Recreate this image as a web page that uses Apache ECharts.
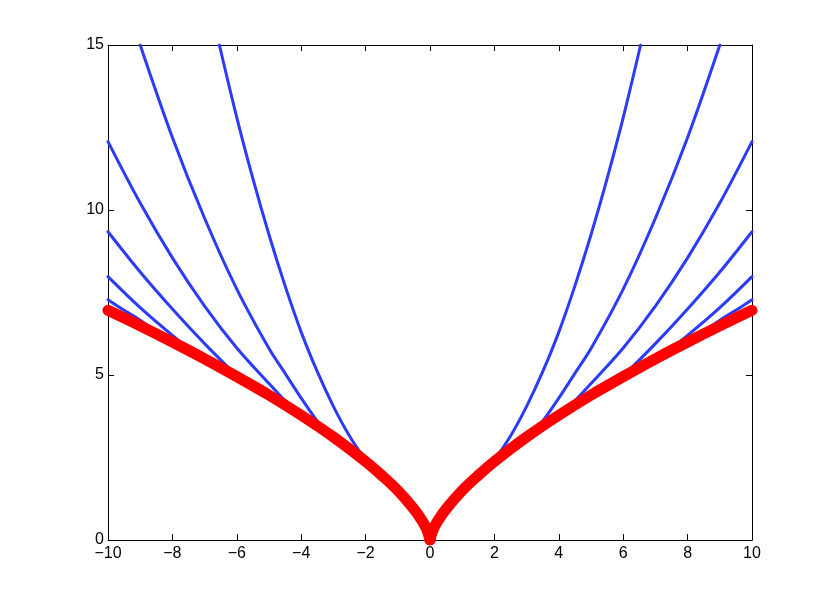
<!DOCTYPE html>
<html>
<head>
<meta charset="utf-8">
<script src="https://cdn.jsdelivr.net/npm/echarts@6/dist/echarts.min.js"></script>
<style>
  html, body { margin: 0; padding: 0; background: #fff; }
  #chart { width: 830px; height: 608px; }
</style>
</head>
<body>
<div id="chart"></div>
<script>
// values, right half (x >= 0); the plot is mirror symmetric
const xTicks = [-10, -8, -6, -4, -2, 0, 2, 4, 6, 8, 10]
const yTicks = [0, 5, 10, 15]

// thick red envelope
const redX = [0, 0.1, 0.25, 0.5, 1, 1.5, 2, 3, 4, 5, 6, 7, 8, 9, 10]
const redY = [0, 0.32, 0.59, 0.94, 1.5, 1.96, 2.38, 3.12, 3.78, 4.39, 4.95, 5.49, 6.0, 6.49, 6.96]

// blue curves, innermost first
const blue1X = [2.0, 2.5, 3.0, 3.5, 4.0, 4.5, 5.0, 5.5, 6.0, 6.54]
const blue1Y = [2.42, 3.15, 4.05, 5.1, 6.3, 7.7, 9.25, 10.95, 12.8, 15.0]
const blue2X = [3.15, 3.5, 4, 4.5, 5, 6, 7, 8, 9]
const blue2Y = [3.18, 3.6, 4.3, 5.05, 5.8, 7.6, 9.75, 12.2, 15.0]
const blue3X = [4.45, 5, 6, 7, 8, 9, 10]
const blue3Y = [4.16, 4.74, 5.82, 7.09, 8.55, 10.21, 12.07]
const blue4X = [6, 7, 8, 9, 10]
const blue4Y = [4.97, 5.95, 7.0, 8.12, 9.34]
const blue5X = [7.35, 8, 9, 10]
const blue5Y = [5.7, 6.2, 7.04, 7.98]
const blue6X = [8.6, 9, 9.5, 10]
const blue6Y = [6.38, 6.66, 6.96, 7.28]

const blueColor = '#2a3cf8'
const redColor = '#ff0000'

function pairs(xs, ys, sign) {
  return xs.map((x, i) => [sign * x, ys[i]])
}

function curve(xs, ys, sign, color, width) {
  return {
    type: 'line',
    data: pairs(xs, ys, sign),
    showSymbol: false,
    symbol: 'none',
    smooth: 0.35,
    clip: true,
    silent: true,
    lineStyle: { color: color, width: width, cap: 'round', join: 'round' },
    z: color === redColor ? 5 : 3,
  }
}

const blues = [
  [blue1X, blue1Y], [blue2X, blue2Y], [blue3X, blue3Y],
  [blue4X, blue4Y], [blue5X, blue5Y], [blue6X, blue6Y],
]

let series = []
blues.forEach(([xs, ys]) => {
  series.push(curve(xs, ys, 1, blueColor, 3))
  series.push(curve(xs, ys, -1, blueColor, 3))
})
series.push(curve(redX, redY, 1, redColor, 11))
series.push(curve(redX, redY, -1, redColor, 11))

const minus = (v) => String(v).replace('-', '\u2212')

const axisBase = {
  type: 'value',
  axisLine: { show: true, onZero: false, lineStyle: { color: '#000', width: 1 } },
  axisTick: { show: true, inside: true, length: 6, lineStyle: { color: '#000' } },
  splitLine: { show: false },
}

const chart = echarts.init(document.getElementById('chart'), null, { renderer: 'canvas' })
chart.setOption({
  animation: false,
  backgroundColor: '#fff',
  grid: { left: 108, right: 78, top: 45, bottom: 68, containLabel: false },
  xAxis: [
    Object.assign({}, axisBase, {
      min: xTicks[0], max: xTicks[xTicks.length - 1], interval: 2,
      position: 'bottom',
      axisLabel: {
        color: '#000', fontSize: 16, fontFamily: 'Liberation Sans, Arial, sans-serif',
        margin: 6, formatter: minus,
      },
    }),
    Object.assign({}, axisBase, {
      min: xTicks[0], max: xTicks[xTicks.length - 1], interval: 2,
      position: 'top',
      axisLabel: { show: false },
    }),
  ],
  yAxis: [
    Object.assign({}, axisBase, {
      min: yTicks[0], max: yTicks[yTicks.length - 1], interval: 5,
      position: 'left',
      axisLabel: {
        color: '#000', fontSize: 16, fontFamily: 'Liberation Sans, Arial, sans-serif',
        margin: 4, formatter: minus,
      },
    }),
    Object.assign({}, axisBase, {
      min: yTicks[0], max: yTicks[yTicks.length - 1], interval: 5,
      position: 'right',
      axisLabel: { show: false },
    }),
  ],
  series: series,
})
</script>
</body>
</html>
